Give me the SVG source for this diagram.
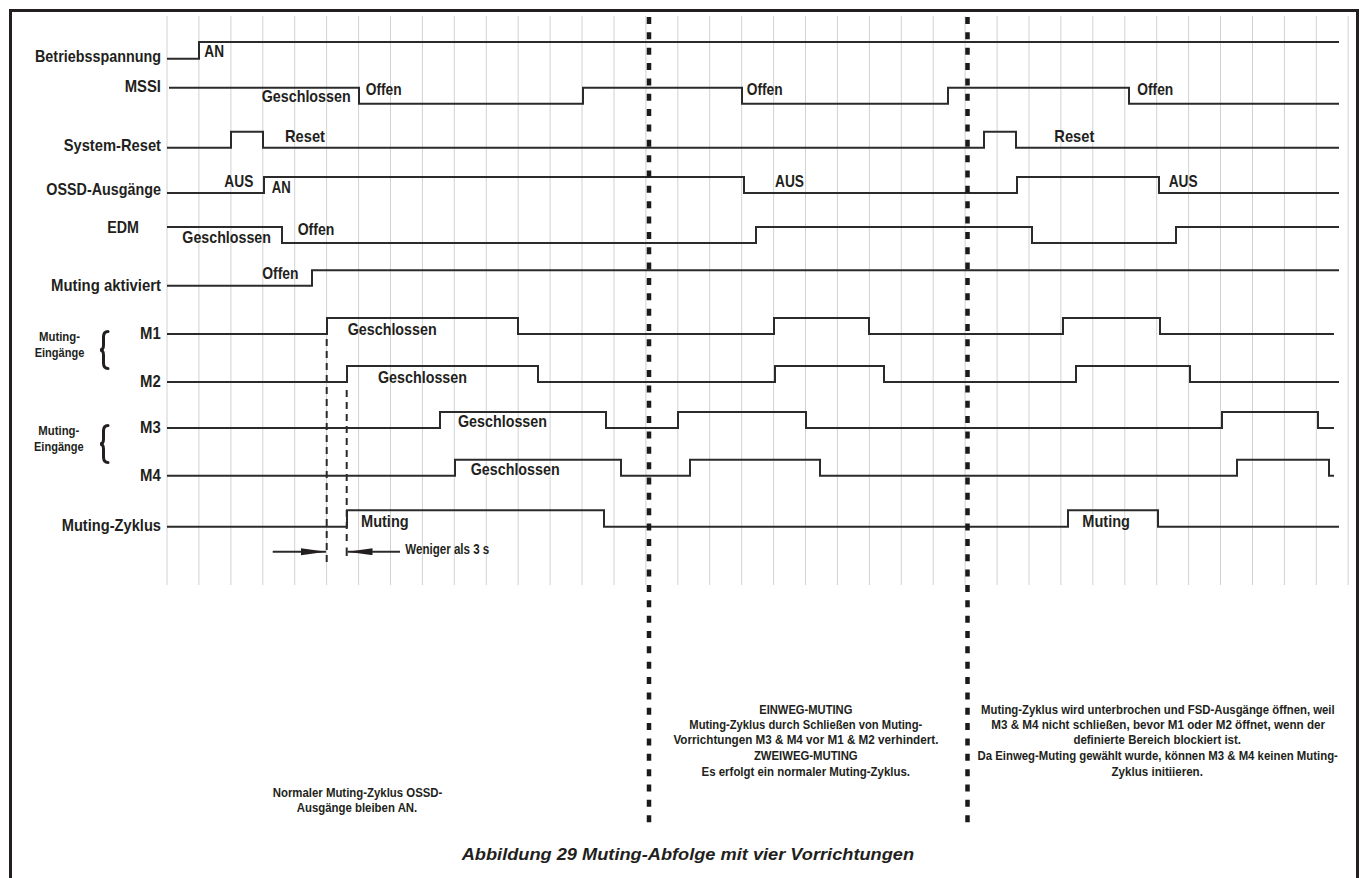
<svg xmlns="http://www.w3.org/2000/svg" width="1360" height="878" viewBox="0 0 1360 878">
<style>
text{font-family:"Liberation Sans Narrow","Liberation Sans",Arial,sans-serif;font-weight:bold;fill:#231f20}
.lbl{font-size:17px}
.m{font-size:16px}
.sm{font-size:13px}
.note{font-size:12.5px}
.tiny{font-size:14px}
.title{font-size:17px;font-style:italic}
.sig{fill:none;stroke:#2b2b2b;stroke-width:2}
.grid{fill:none;stroke:#d2d2d2;stroke-width:1}
.sep{fill:none;stroke:#1a1a1a;stroke-width:4.5;stroke-dasharray:7 8.35}
.tdash{fill:none;stroke:#2b2b2b;stroke-width:2;stroke-dasharray:7 5}
.brace{fill:none;stroke:#231f20;stroke-width:3;stroke-linecap:round}
</style>
<defs>
<marker id="tri" markerUnits="userSpaceOnUse" markerWidth="26" markerHeight="8" refX="25" refY="3.5" orient="auto">
<path d="M0,0 L25,3.5 L0,7 Z" fill="#231f20"/>
</marker>
</defs>
<rect x="0" y="0" width="1360" height="878" fill="#ffffff"/>
<rect x="10.5" y="10.5" width="1347" height="900" fill="none" stroke="#231f20" stroke-width="3"/>
<g id="grid">
<path class="grid" d="M167,16V585M198.9,16V585M230.9,16V585M262.8,16V585M294.7,16V585M326.6,16V585M358.6,16V585M390.5,16V585M422.4,16V585M454.3,16V585M486.3,16V585M518.2,16V585M550.1,16V585M582,16V585M614,16V585M645.9,16V585M677.8,16V585M709.7,16V585M741.7,16V585M773.6,16V585M805.5,16V585M837.4,16V585M869.4,16V585M901.3,16V585M933.2,16V585M965.1,16V585M997.1,16V585M1029,16V585M1060.9,16V585M1092.8,16V585M1124.8,16V585M1156.7,16V585M1188.6,16V585M1220.5,16V585M1252.5,16V585M1284.4,16V585M1316.3,16V585M1348.2,16V585"/>
</g>
<g id="sig-betrieb">
<text class="lbl" x="35" y="62" textLength="126" lengthAdjust="spacingAndGlyphs">Betriebsspannung</text>
<path class="sig" d="M167,58.7H199V42H1339"/>
<text class="lbl" x="204.3" y="57.3" textLength="19.7" lengthAdjust="spacingAndGlyphs">AN</text>
</g>
<g id="sig-mssi">
<text class="lbl" x="124.7" y="92.3" textLength="36.3" lengthAdjust="spacingAndGlyphs">MSSI</text>
<path class="sig" d="M169,87.7H359V103.7H583V87.7H742V103.7H948V87.7H1129V103.7H1339"/>
<text class="lbl" x="261.7" y="101.7" textLength="89" lengthAdjust="spacingAndGlyphs">Geschlossen</text>
<text class="lbl" x="365.7" y="94.7" textLength="36" lengthAdjust="spacingAndGlyphs">Offen</text>
<text class="lbl" x="746.7" y="95" textLength="36" lengthAdjust="spacingAndGlyphs">Offen</text>
<text class="lbl" x="1137.3" y="95" textLength="36" lengthAdjust="spacingAndGlyphs">Offen</text>
</g>
<g id="sig-reset">
<text class="lbl" x="63.7" y="151" textLength="97.3" lengthAdjust="spacingAndGlyphs">System-Reset</text>
<path class="sig" d="M167,147.7H231V131.7H263V147.7H984V131.7H1016V147.7H1339"/>
<text class="lbl" x="285" y="141.7" textLength="40" lengthAdjust="spacingAndGlyphs">Reset</text>
<text class="lbl" x="1054.3" y="142" textLength="40" lengthAdjust="spacingAndGlyphs">Reset</text>
</g>
<g id="sig-ossd">
<text class="lbl" x="46.3" y="195" textLength="114.7" lengthAdjust="spacingAndGlyphs">OSSD-Ausgänge</text>
<path class="sig" d="M167,193H264V177H744V193H1017V177H1159V193H1339"/>
<text class="lbl" x="224.3" y="186.7" textLength="29" lengthAdjust="spacingAndGlyphs">AUS</text>
<text class="lbl" x="271.7" y="193.3" textLength="19" lengthAdjust="spacingAndGlyphs">AN</text>
<text class="lbl" x="775" y="186.7" textLength="29" lengthAdjust="spacingAndGlyphs">AUS</text>
<text class="lbl" x="1168.7" y="186.7" textLength="29" lengthAdjust="spacingAndGlyphs">AUS</text>
</g>
<g id="sig-edm">
<text class="lbl" x="107.3" y="233.3" textLength="31.7" lengthAdjust="spacingAndGlyphs">EDM</text>
<path class="sig" d="M167,227H282V243H756V227H1032V243H1176V227H1339"/>
<text class="lbl" x="182.3" y="242.7" textLength="88.7" lengthAdjust="spacingAndGlyphs">Geschlossen</text>
<text class="lbl" x="297.7" y="235" textLength="36.7" lengthAdjust="spacingAndGlyphs">Offen</text>
</g>
<g id="sig-mutakt">
<text class="lbl" x="51" y="291" textLength="110" lengthAdjust="spacingAndGlyphs">Muting aktiviert</text>
<path class="sig" d="M167,285.7H312V270.3H1339"/>
<text class="lbl" x="262.3" y="278.7" textLength="36.3" lengthAdjust="spacingAndGlyphs">Offen</text>
</g>
<g id="group-m12">
<text class="sm" x="39" y="341.3" textLength="41" lengthAdjust="spacingAndGlyphs">Muting-</text>
<text class="sm" x="34.7" y="357.3" textLength="49.7" lengthAdjust="spacingAndGlyphs">Eingänge</text>
<path class="brace" d="M108,331.5C104.5,331.5 103.5,333.5 103.5,337V345C103.5,348 102.5,350 100,350C102.5,350 103.5,352 103.5,355V363C103.5,366.5 104.5,368.5 108,368.5"/>
</g>
<g id="sig-m1">
<text class="m" x="140" y="339.3" textLength="20.7" lengthAdjust="spacingAndGlyphs">M1</text>
<path class="sig" d="M167,334H327V318H518V334H774V318H869V334H1063V318H1160V334H1334"/>
<text class="lbl" x="347.7" y="334.7" textLength="89" lengthAdjust="spacingAndGlyphs">Geschlossen</text>
</g>
<g id="sig-m2">
<text class="m" x="140" y="387.3" textLength="20.7" lengthAdjust="spacingAndGlyphs">M2</text>
<path class="sig" d="M167,382H347V366H538V382H775V366H884V382H1076V366H1190V382H1339"/>
<text class="lbl" x="378" y="382.7" textLength="89" lengthAdjust="spacingAndGlyphs">Geschlossen</text>
</g>
<g id="group-m34">
<text class="sm" x="38.3" y="435.3" textLength="41" lengthAdjust="spacingAndGlyphs">Muting-</text>
<text class="sm" x="34" y="451" textLength="49.7" lengthAdjust="spacingAndGlyphs">Eingänge</text>
<path class="brace" d="M108,425.5C104.5,425.5 103.5,427.5 103.5,431V439C103.5,442 102.5,444 100,444C102.5,444 103.5,446 103.5,449V457C103.5,460.5 104.5,462.5 108,462.5"/>
</g>
<g id="sig-m3">
<text class="m" x="140" y="433.3" textLength="20.7" lengthAdjust="spacingAndGlyphs">M3</text>
<path class="sig" d="M167,428H440V412H606V428H678V412H806V428H1222V412H1318V428H1334"/>
<text class="lbl" x="458" y="426.7" textLength="89" lengthAdjust="spacingAndGlyphs">Geschlossen</text>
</g>
<g id="sig-m4">
<text class="m" x="140" y="481" textLength="20.7" lengthAdjust="spacingAndGlyphs">M4</text>
<path class="sig" d="M167,475.7H455V459.7H621V475.7H690V459.7H820V475.7H1237V459.7H1329V475.7H1334"/>
<text class="lbl" x="470.7" y="475.3" textLength="89" lengthAdjust="spacingAndGlyphs">Geschlossen</text>
</g>
<g id="sig-zyklus">
<text class="lbl" x="61.7" y="530.7" textLength="99.3" lengthAdjust="spacingAndGlyphs">Muting-Zyklus</text>
<path class="sig" d="M167,526.7H347V510.3H604V526.7H1068V510.3H1158V526.7H1339"/>
<text class="lbl" x="361" y="526.7" textLength="47.7" lengthAdjust="spacingAndGlyphs">Muting</text>
<text class="lbl" x="1082.3" y="526.7" textLength="47.7" lengthAdjust="spacingAndGlyphs">Muting</text>
</g>
<g id="connectors">
<path class="sep" d="M649,17V826"/>
<path class="sep" d="M967.5,17V826"/>
<path class="tdash" d="M326.7,339V562"/>
<path class="tdash" d="M346.7,390V545"/>
<path class="sig" d="M346.7,547.5V556"/>
<line class="sig" x1="272.7" y1="551.7" x2="326" y2="551.7" marker-end="url(#tri)"/>
<line class="sig" x1="400" y1="551.7" x2="347.5" y2="551.7" marker-end="url(#tri)"/>
<text class="tiny" x="405.3" y="554.3" textLength="84" lengthAdjust="spacingAndGlyphs">Weniger als 3 s</text>
</g>
<g id="notes">
<text class="note" x="272.7" y="796.7" textLength="169.7" lengthAdjust="spacingAndGlyphs">Normaler Muting-Zyklus OSSD-</text>
<text class="note" x="296.7" y="812.3" textLength="120.6" lengthAdjust="spacingAndGlyphs">Ausgänge bleiben AN.</text>
<text class="note" x="759.2" y="714" textLength="93.2" lengthAdjust="spacingAndGlyphs">EINWEG-MUTING</text>
<text class="note" x="689.3" y="729" textLength="233" lengthAdjust="spacingAndGlyphs">Muting-Zyklus durch Schließen von Muting-</text>
<text class="note" x="673.4" y="744.3" textLength="265" lengthAdjust="spacingAndGlyphs">Vorrichtungen M3 &amp; M4 vor M1 &amp; M2 verhindert.</text>
<text class="note" x="753.9" y="759.7" textLength="103.8" lengthAdjust="spacingAndGlyphs">ZWEIWEG-MUTING</text>
<text class="note" x="701.6" y="775.7" textLength="208.4" lengthAdjust="spacingAndGlyphs">Es erfolgt ein normaler Muting-Zyklus.</text>
<g transform="translate(1157.7,0) scale(0.8,1)">
<text class="note" x="-220.75" y="714" textLength="441.9" lengthAdjust="spacingAndGlyphs">Muting-Zyklus wird unterbrochen und FSD-Ausgänge öffnen, weil</text>
<text class="note" x="-208.1" y="729" textLength="417.25" lengthAdjust="spacingAndGlyphs">M3 &amp; M4 nicht schließen, bevor M1 oder M2 öffnet, wenn der</text>
<text class="note" x="-105.4" y="744.3" textLength="209.5" lengthAdjust="spacingAndGlyphs">definierte Bereich blockiert ist.</text>
<text class="note" x="-225.25" y="759.7" textLength="450.5" lengthAdjust="spacingAndGlyphs">Da Einweg-Muting gewählt wurde, können M3 &amp; M4 keinen Muting-</text>
<text class="note" x="-57.75" y="775.7" textLength="114.25" lengthAdjust="spacingAndGlyphs">Zyklus initiieren.</text>
</g>
</g>
<g id="caption">
<text class="title" x="461.7" y="860" textLength="452.4" lengthAdjust="spacingAndGlyphs">Abbildung 29 Muting-Abfolge mit vier Vorrichtungen</text>
</g>
</svg>
